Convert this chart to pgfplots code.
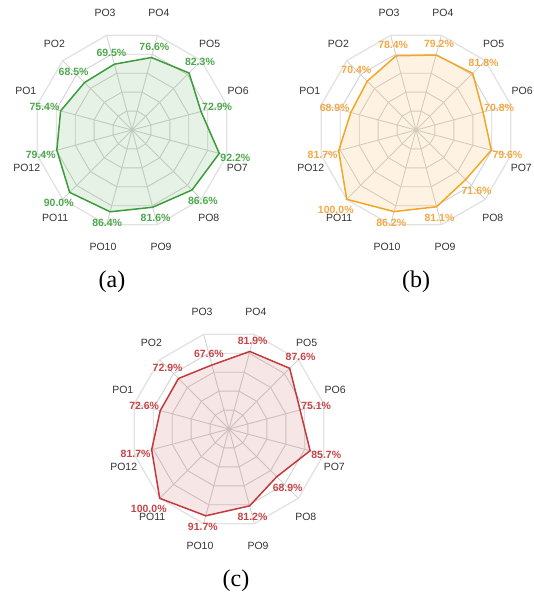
\documentclass[border=0pt]{standalone}
\usepackage{pgfplots}
\pgfplotsset{compat=1.18}
\usepackage{pgfplotstable}
\usepackage{fontspec}
\setmainfont{Liberation Sans}
\newfontfamily\seriffont{Liberation Serif}
\definecolor{gA}{HTML}{3B9C3B}
\definecolor{gAt}{HTML}{4CA84C}
\definecolor{oB}{HTML}{F5A524}
\definecolor{oBt}{HTML}{F4A743}
\definecolor{rC}{HTML}{C23A3C}
\definecolor{rCt}{HTML}{C64446}
\definecolor{gridc}{HTML}{D2D2D2}
\definecolor{gridout}{HTML}{E2E2E2}
\definecolor{namec}{HTML}{333333}

% angle (deg), value (%), label anchor
\pgfplotstableread{
ang val anc
165 75.4 345
135 68.5 315
105 69.5 285
75  76.6 255
45  82.3 225
15  72.9 195
345 92.2 165
315 86.6 135
285 81.6 105
255 86.4 75
225 90.0 45
195 79.4 15
}\dataA
\pgfplotstableread{
ang val anc
165 68.9 345
135 70.4 315
105 78.4 285
75  79.2 255
45  81.8 225
15  70.8 195
345 79.6 165
315 71.6 135
285 81.1 105
255 86.2 75
225 100.0 45
195 81.7 15
}\dataB
\pgfplotstableread{
ang val anc
165 72.6 345
135 72.9 315
105 67.6 285
75  81.9 255
45  87.6 225
15  75.1 195
345 85.7 165
315 68.9 135
285 81.2 105
255 91.7 75
225 100.0 45
195 81.7 15
}\dataC
% axis-name label positions (angle, radius in axis units)
\pgfplotstableread{
ang r name
160 115.3 PO1
132 118.4 PO2
103 122.4 PO3
77  122.4 PO4
48  118.4 PO5
20  115.3 PO6
340 114.3 PO7
311 119.4 PO8
284 122.4 PO9
256 122.4 PO10
229 119.4 PO11
200 114.3 PO12
}\names

\pgfplotsset{
  radar/.style={hide axis, x=0.98pt, y=0.98pt,
    xmin=-100, xmax=100, ymin=-100, ymax=100,
    anchor=center, clip=false, data cs=polar,
    /pgf/number format/assume math mode=true},
  radarline/.style={#1, line width=1.5pt, fill=#1, fill opacity=0.13, draw opacity=1, forget plot},
  radarlabels/.style={draw=none, forget plot,
    point meta=explicit symbolic,
    visualization depends on={rawy\as\myval},
    nodes near coords={\pgfmathprintnumber[fixed,fixed zerofill,precision=1]{\myval}\%},
    every node near coord/.append style={anchor=\pgfplotspointmeta, inner xsep=1pt, inner ysep=7pt,
      text=#1, font=\fontsize{10.5}{12}\selectfont\bfseries}},
}

\newcommand\radargrid{%
  \pgfplotsinvokeforeach{15,45,75,105,135,165,195,225,255,285,315,345}{%
    \addplot[gridc, line width=0.9pt, forget plot] coordinates {(##1,0) (##1,100)};}%
  \pgfplotsinvokeforeach{20,40,60,80}{%
    \addplot[gridc, line width=0.9pt, forget plot] coordinates {(15,##1)(45,##1)(75,##1)(105,##1)(135,##1)(165,##1)(195,##1)(225,##1)(255,##1)(285,##1)(315,##1)(345,##1)} -- cycle;}%
  \addplot[gridout, line width=1.3pt, forget plot] coordinates {(15,100)(45,100)(75,100)(105,100)(135,100)(165,100)(195,100)(225,100)(255,100)(285,100)(315,100)(345,100)} -- cycle;%
  \addplot[draw=none, forget plot, point meta=explicit symbolic, nodes near coords,
    every node near coord/.append style={anchor=center, inner sep=0pt, text=namec,
      font=\fontsize{10.5}{12}\selectfont}] table[x=ang, y=r, meta=name] {\names};%
}

\begin{document}
\begin{tikzpicture}
\path[use as bounding box] (0,0) rectangle (533pt,-596pt);

\begin{axis}[radar, at={(132pt,-130pt)}]
\radargrid
\addplot[radarline=gA] table[x=ang, y=val] {\dataA} -- cycle;
\addplot[radarlabels=gAt] table[x=ang, y=val, meta=anc] {\dataA};
\end{axis}

\begin{axis}[radar, at={(416pt,-130pt)}]
\radargrid
\addplot[radarline=oB] table[x=ang, y=val] {\dataB} -- cycle;
\addplot[radarlabels=oBt] table[x=ang, y=val, meta=anc] {\dataB};
\end{axis}

\begin{axis}[radar, at={(229pt,-429pt)}]
\radargrid
\addplot[radarline=rC] table[x=ang, y=val] {\dataC} -- cycle;
\addplot[radarlabels=rCt] table[x=ang, y=val, meta=anc] {\dataC};
\end{axis}

\node[font=\seriffont\fontsize{24}{28}\selectfont] at (112pt,-282pt) {(a)};
\node[font=\seriffont\fontsize{24}{28}\selectfont] at (416pt,-282pt) {(b)};
\node[font=\seriffont\fontsize{24}{28}\selectfont] at (236pt,-581pt) {(c)};
\end{tikzpicture}
\end{document}
